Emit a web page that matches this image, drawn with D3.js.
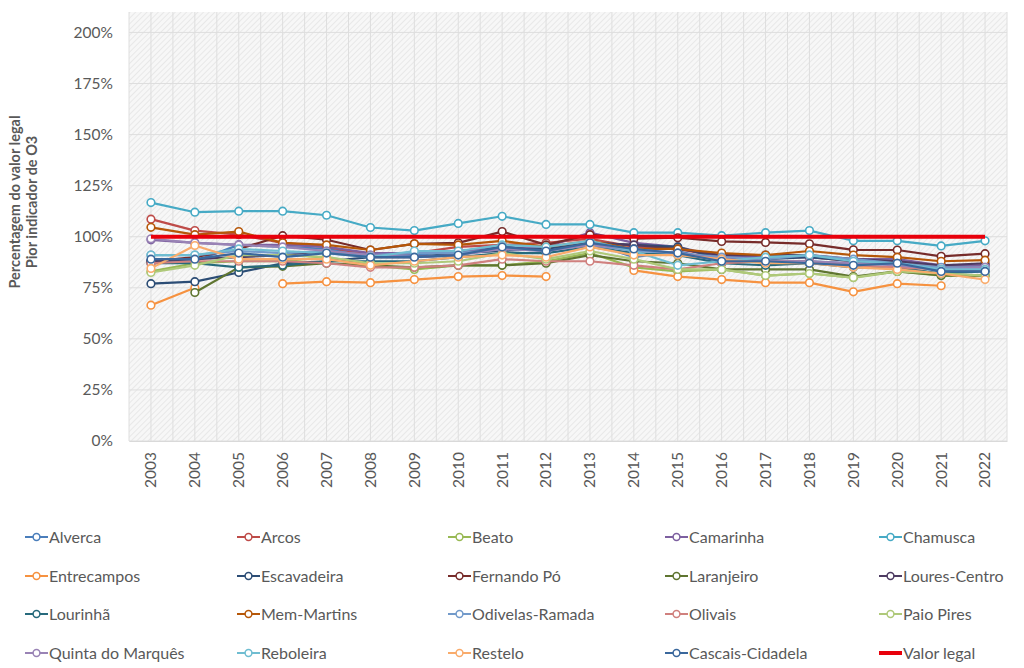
<!DOCTYPE html>
<html><head><meta charset="utf-8">
<script src="https://cdn.jsdelivr.net/npm/d3@7"></script>
<style>
body{margin:0;background:#fff;}
svg{display:block;font-family:Lato,"Open Sans",sans-serif;}
</style></head>
<body><svg id="c" width="1024" height="668"></svg>
<script>
const years = ["2003","2004","2005","2006","2007","2008","2009","2010","2011","2012","2013","2014","2015","2016","2017","2018","2019","2020","2021","2022"];
const yTicks = [0,25,50,75,100,125,150,175,200];
const seriesNames = ["Alverca","Arcos","Beato","Camarinha","Chamusca","Entrecampos","Escavadeira","Fernando Pó","Laranjeiro","Loures-Centro","Lourinhã","Mem-Martins","Odivelas-Ramada","Olivais","Paio Pires","Quinta do Marquês","Reboleira","Restelo","Cascais-Cidadela","Valor legal"];
const seriesColors = ["#4a7ebb","#be4b48","#98b954","#7d60a0","#46aac5","#f69240","#2c4d75","#772c2a","#5f7530","#4d3b62","#276a7c","#b65708","#729aca","#d0807e","#afc97a","#9983b5","#6fbdd1","#f9ab6b","#3a679c","#e8000b"];

const alverca      = [88,88,96,95,94,91,91,93,95,94,97,90,93,88,88,88,87,87,83,84];
const arcos        = [108.6,103,101,97,95,91,92,95,96,97,99,95,94,90,90,90,88,88,85,86];
const beato        = [83,87,88,88,90,86,84,86,86,88,92,85,83,84,81,82,80,83,81,81];
const camarinha    = [98.5,97,96,96,95,92,92,93,94,95,102,97,95,90,90,90,89,89,86,86];
const chamusca     = [116.7,112,112.5,112.5,110.5,104.5,103,106.5,110,106,106,102,102,100.5,102,103,98,98,95.5,98];
const entrecampos  = [66.5,75,null,77,78,77.5,79,80.5,81,80.5,null,83.5,80.5,79,77.5,77.5,73,77,76,null];
const escavadeira  = [77,78,82.5,87,88,90,90,92,93,94,97,96,95,89,89,90,88,88,83,84];
const fernandoPo   = [88,90,94,100.5,98.5,93.5,96.5,97,102.5,96,101,99,99.5,97.7,97.2,96.5,93.6,93.5,90.4,91.7];
const laranjeiro   = [null,72.7,85,85.5,87,86,85,86,86,87,91,88,87,84,84,84,80.5,83,81,81];
const louresCentro = [88,89,90,91,93,90,90,91,95,93,97,96,94,91,91,91,89,88,86,87];
const lourinha     = [87,87,85,86,88,88,88,90,92,92,95,92,91,87,86,87,85,85,82,83];
const memMartins   = [104.6,101,102.5,97,96,93.5,96.5,96,98,95,98,94,94,92,91,93,91,90,88,88.5];
const odivelas     = [91,91,93,92,93,91,92,92,94,93,96,93,92,90,89,91,89,87,85,85];
const olivais      = [87,88,88,88,87,85,85,86,89,88,88,86,84,87,88,88,86,85,84,84];
const paioPires    = [82.5,86,91,91,90,87,87,88,92,89,93,89,84,84,81,82,80,83,82,81];
const quintaMarques= [99,97,96,95,93,91,90,91,94,93,96,94,92,89,88,88,87,86,84,85];
const reboleira    = [91,91,94,93,92,90,93,93,96,95,98,93,86,88,90,91,88,87,84,84];
const restelo      = [84.5,95.7,89,89,89,86,88,90,91,90,95,91,91,89,87,87,85,84,82,79];
const cascais      = [89,89,92,90,92,90,90,91,95,93,97,94,92,88,88,87,86,87,83,83];
const valorLegal   = [100,100,100,100,100,100,100,100,100,100,100,100,100,100,100,100,100,100,100,100];

const seriesValues = [alverca,arcos,beato,camarinha,chamusca,entrecampos,escavadeira,fernandoPo,laranjeiro,louresCentro,lourinha,memMartins,odivelas,olivais,paioPires,quintaMarques,reboleira,restelo,cascais,valorLegal];

const svg = d3.select("#c");
const L = 129, R = 1007, T = 12, B = 441;
const x = d3.scaleBand().domain(years).range([L, R]);
const y = d3.scaleLinear().domain([0, 210]).range([B, T]);
const txt = "#595959";

// hatch pattern
const defs = svg.append("defs");
const pat = defs.append("pattern").attr("id","hatch").attr("patternUnits","userSpaceOnUse")
  .attr("width",4).attr("height",4).attr("patternTransform","rotate(45)");
pat.append("rect").attr("width",4).attr("height",4).attr("fill","#f7f7f7");
pat.append("line").attr("x1",0).attr("y1",0).attr("x2",0).attr("y2",4).attr("stroke","#e2e2e2").attr("stroke-width",1.4);

svg.append("rect").attr("x",L).attr("y",T).attr("width",R-L).attr("height",B-T).attr("fill","url(#hatch)");

// vertical grid at half-band steps
const half = x.bandwidth()/2;
const vg = [];
years.forEach((d,i)=>{ vg.push(x(d)); vg.push(x(d)+half); });
vg.push(R);
svg.append("g").selectAll("line").data(vg).join("line")
  .attr("x1",d=>d).attr("x2",d=>d).attr("y1",T).attr("y2",B)
  .attr("stroke","#dedede").attr("stroke-width",1);
// horizontal grid
svg.append("g").selectAll("line").data(yTicks).join("line")
  .attr("x1",L).attr("x2",R).attr("y1",d=>y(d)).attr("y2",d=>y(d))
  .attr("stroke","#dedede").attr("stroke-width",1);

// y axis
const yAxis = svg.append("g").attr("transform",`translate(${L},0)`)
  .call(d3.axisLeft(y).tickValues(yTicks).tickFormat(d=>d+"%").tickSize(0).tickPadding(16));
yAxis.select(".domain").remove();
yAxis.selectAll("text").attr("fill",txt).style("font-size","15.5px").style("font-family","Lato,'Open Sans',sans-serif");

// x axis
const xAxis = svg.append("g").attr("transform",`translate(0,${B})`)
  .call(d3.axisBottom(x).tickSize(0));
xAxis.select(".domain").attr("stroke","#d9d9d9");
xAxis.selectAll("text").attr("fill",txt).style("font-size","15.5px").style("font-family","Lato,'Open Sans',sans-serif")
  .attr("transform","rotate(-90)").attr("text-anchor","end").attr("dx","-11px").attr("dy","0.35em").attr("y",0).attr("x",0);

// y title
const yt = svg.append("text").attr("transform","translate(20,202) rotate(-90)")
  .attr("text-anchor","middle").attr("fill",txt).style("font-size","14.5px").style("font-weight","bold");
yt.append("tspan").attr("x",0).attr("dy",0).text("Percentagem do valor legal");
yt.append("tspan").attr("x",0).attr("dy","17px").text("Pior indicador de O3");

// lines
const line = d3.line().defined(d=>d!=null).x((d,i)=>x(years[i])+half).y(d=>y(d));
const plot = svg.append("g");
seriesValues.forEach((vals,si)=>{
  const isLegal = si === seriesValues.length-1;
  if (isLegal) return;
  plot.append("path").datum(vals).attr("d",line).attr("fill","none")
    .attr("stroke",seriesColors[si]).attr("stroke-width",2.2).attr("stroke-linejoin","round");
  plot.append("g").selectAll("circle").data(vals.map((v,i)=>({v,i})).filter(d=>d.v!=null)).join("circle")
    .attr("cx",d=>x(years[d.i])+half).attr("cy",d=>y(d.v)).attr("r",3.8)
    .attr("fill","#fff").attr("stroke",seriesColors[si]).attr("stroke-width",1.6);
});
// valor legal on top
plot.append("path").datum(valorLegal).attr("d",line).attr("fill","none")
  .attr("stroke",seriesColors[seriesColors.length-1]).attr("stroke-width",4);

// legend
const colX = [25,237,448,665,879];
const rowY = [537,576,614,653];
const lg = svg.append("g");
seriesNames.forEach((n,i)=>{
  const cx = colX[i%5], cy = rowY[Math.floor(i/5)];
  const g = lg.append("g").attr("transform",`translate(${cx},${cy})`);
  const isLegal = i === seriesNames.length-1;
  g.append("line").attr("x1",0).attr("x2",23).attr("y1",0).attr("y2",0)
    .attr("stroke",seriesColors[i]).attr("stroke-width",isLegal?4:2);
  if(!isLegal) g.append("circle").attr("cx",11.5).attr("cy",0).attr("r",3.4)
    .attr("fill","#fff").attr("stroke",seriesColors[i]).attr("stroke-width",1.5);
  g.append("text").attr("x",24).attr("y",0).attr("dy","0.35em").attr("fill",txt)
    .style("font-size","16px").text(n);
});
</script></body></html>
